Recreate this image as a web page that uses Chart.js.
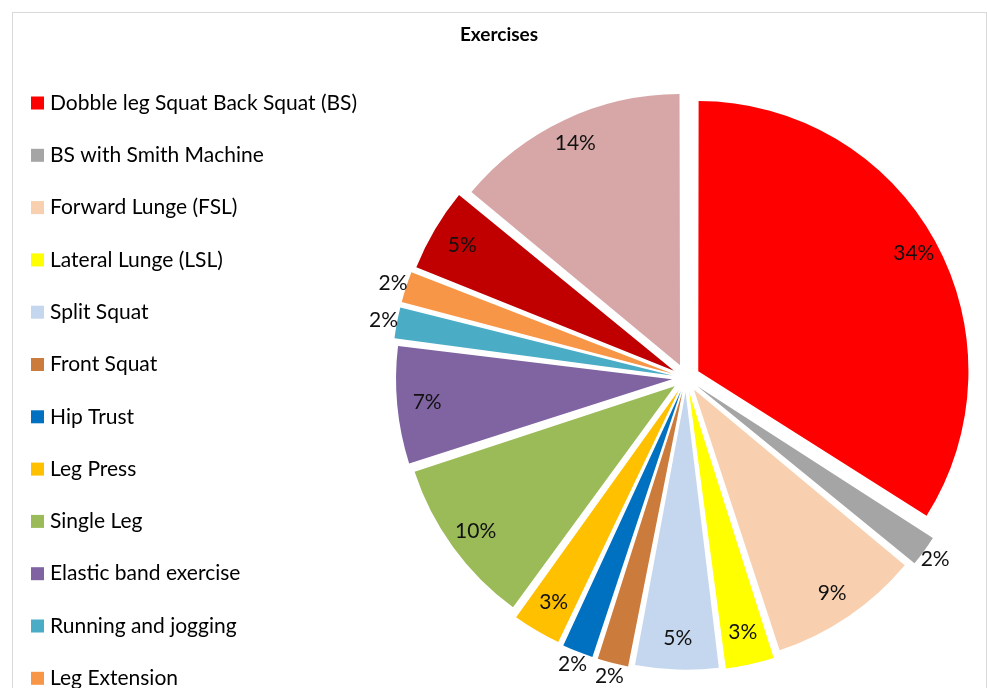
<!DOCTYPE html>
<html lang="en">
<head>
  <meta charset="UTF-8" />
  <title>Exercises</title>
  <script src="https://cdn.jsdelivr.net/npm/chart.js"></script>
  <style>
    body {
      margin: 0;
      background: #fff;
      overflow: hidden;
    }

    #frame {
      position: absolute;
      left: 12px;
      top: 12px;
      width: 973px;
      height: 800px;
      border: 1px solid #d9d9d9;
    }

    #pie {
      position: absolute;
      left: 0;
      top: 0;
    }
  </style>
</head>
<body>
  <div id="frame"></div>
  <canvas id="pie" width="987" height="688"></canvas>

  <script>
    const chartTitle = 'Exercises';
    const exercises = [
      'Dobble leg Squat Back Squat (BS)',
      'BS with Smith Machine',
      'Forward Lunge (FSL)',
      'Lateral Lunge (LSL)',
      'Split Squat',
      'Front Squat',
      'Hip Trust',
      'Leg Press',
      'Single Leg',
      'Elastic band exercise',
      'Running and jogging',
      'Leg Extension',
      'Deadlift',
      'Others'
    ];
    const shares = [34, 2, 9, 3, 5, 2, 2, 3, 10, 7, 2, 2, 5, 14];
    const colors = [
      '#ff0000', '#a5a5a5', '#f8d0b0', '#ffff00', '#c5d7ee', '#cb7b3b', '#0070c0',
      '#ffc000', '#9bbb59', '#8064a2', '#4bacc6', '#f79646', '#c00000', '#d7a7a7'
    ];

    const FONT = 'Lato, "Open Sans", sans-serif';

    // legend + title drawn by hand so they sit where the original puts them
    const sideLegend = {
      id: 'sideLegend',
      afterDraw(chart) {
        const ctx = chart.ctx;
        ctx.save();
        ctx.fillStyle = '#000';
        ctx.textAlign = 'center';
        ctx.textBaseline = 'middle';
        ctx.font = 'bold 19px ' + FONT;
        ctx.fillText(chartTitle, 499, 35);

        ctx.textAlign = 'left';
        ctx.font = '21px ' + FONT;
        exercises.forEach((name, i) => {
          const y = 103 + i * 52.3;
          ctx.fillStyle = colors[i];
          ctx.fillRect(31, y - 6.5, 13, 13);
          ctx.fillStyle = '#000';
          ctx.fillText(name, 50, y);
        });
        ctx.restore();
      }
    };

    const pctLabels = {
      id: 'pctLabels',
      afterDatasetsDraw(chart) {
        const ctx = chart.ctx;
        const arcs = chart.getDatasetMeta(0).data;
        ctx.save();
        ctx.font = '21px ' + FONT;
        ctx.fillStyle = '#111';
        ctx.textAlign = 'center';
        ctx.textBaseline = 'middle';
        arcs.forEach((arc, i) => {
          const mid = (arc.startAngle + arc.endAngle) / 2;
          const dist = shares[i] <= 2 ? arc.outerRadius + 40 : arc.outerRadius - 8;
          ctx.fillText(shares[i] + '%', arc.x + Math.cos(mid) * dist, arc.y + Math.sin(mid) * dist);
        });
        ctx.restore();
      }
    };

    new Chart(document.getElementById('pie'), {
      type: 'pie',
      data: {
        labels: exercises,
        datasets: [{
          data: shares,
          backgroundColor: colors,
          borderWidth: 0,
          offset: 56,
          clip: false
        }]
      },
      options: {
        responsive: false,
        animation: false,
        events: [],
        radius: 268,
        layout: {
          padding: { left: 385, right: 0, top: 68, bottom: 0 }
        },
        plugins: {
          legend: { display: false },
          title: { display: false },
          tooltip: { enabled: false }
        }
      },
      plugins: [sideLegend, pctLabels]
    });
  </script>
</body>
</html>
